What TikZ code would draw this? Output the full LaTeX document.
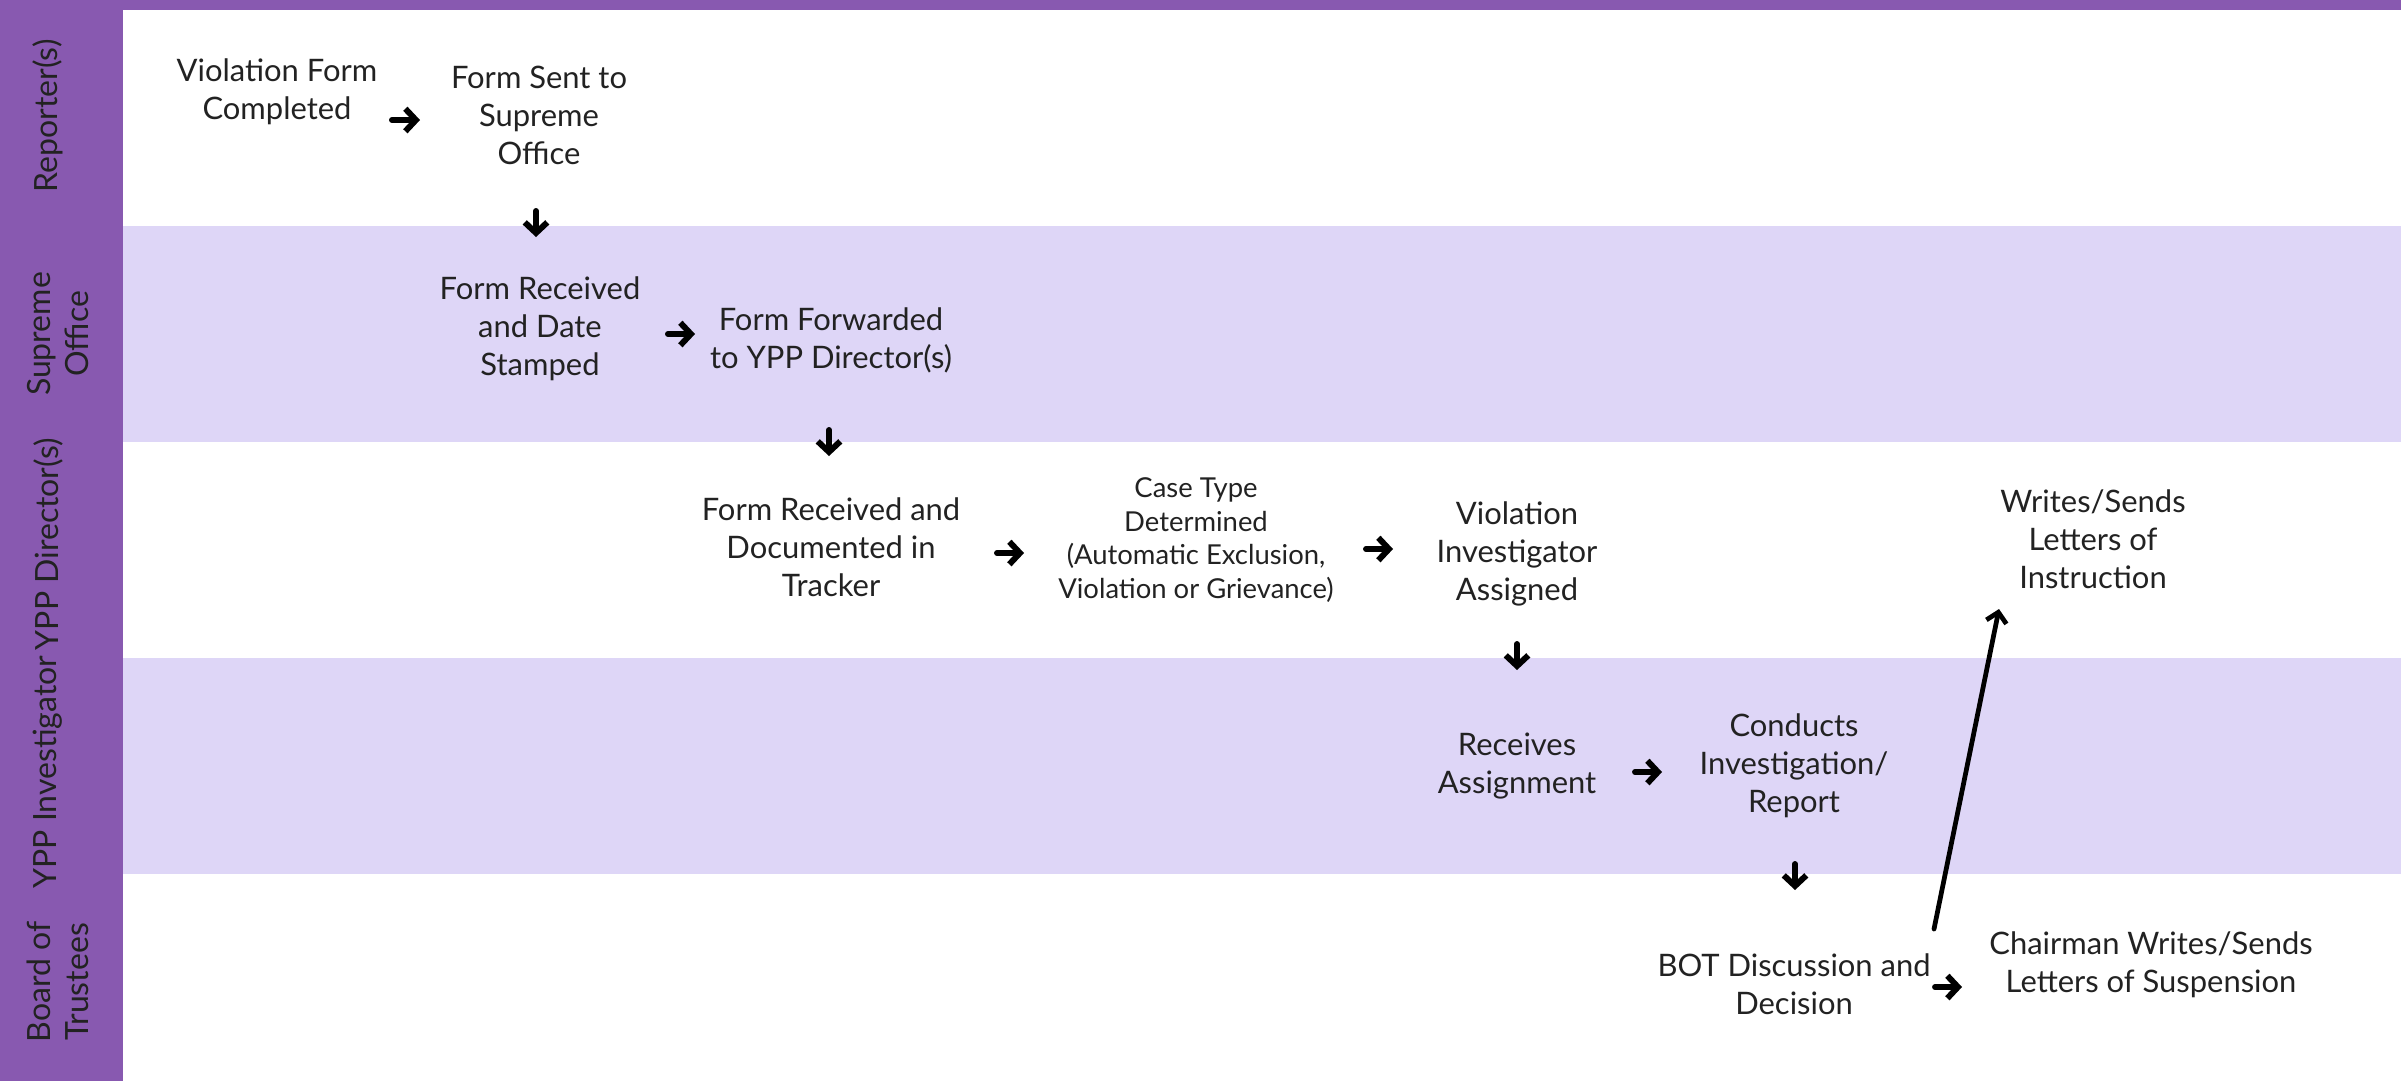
\documentclass[tikz,border=0pt]{standalone}
\usepackage{fontspec}
\setmainfont{Lato}
\usetikzlibrary{arrows.meta}
\definecolor{lanepurple}{HTML}{8859B0}
\definecolor{lanelav}{HTML}{DED6F7}
\definecolor{txt}{HTML}{222222}
\begin{document}
\begin{tikzpicture}[x=0.01cm,y=-0.01cm,
  stepnode/.style={align=center,font=\fontsize{8.8}{10.8}\selectfont,text=txt,inner sep=0pt},
  smallnode/.style={align=center,font=\fontsize{7.8}{9.6}\selectfont,text=txt,inner sep=0pt},
  lanelabel/.style={rotate=90,align=center,font=\fontsize{9.1}{11}\selectfont,text=txt,inner sep=0pt},
  flow/.style={line width=1.7pt,line cap=round,line join=round,-{Straight Barb[length=3pt,width=6.4pt]}},
  longflow/.style={line width=1.35pt,line cap=round,line join=round,-{Straight Barb[length=2.8pt,width=5.8pt]}}]
\useasboundingbox (0,0) rectangle (2401,1081);
% lanes
\fill[white] (0,0) rectangle (2401,1081);
\fill[lanelav] (123,226) rectangle (2401,442);
\fill[lanelav] (123,658) rectangle (2401,874);
\fill[lanepurple] (0,0) rectangle (2401,10);
\fill[lanepurple] (0,0) rectangle (123,1081);
% lane labels
\node[lanelabel] (lrep) at (48,116) {Reporter(s)};
\node[lanelabel] (lsup) at (58,334) {Supreme\\Office};
\node[lanelabel] (ldir) at (48,544) {YPP Director(s)};
\node[lanelabel] (linv) at (48,772) {YPP Investigator};
\node[lanelabel] (lbot) at (58,982) {Board of\\Trustees};
% steps
\node[stepnode] (vfc) at (277,92) {Violation Form\\Completed};
\node[stepnode] (fst) at (539,115) {Form Sent to\\Supreme\\Office};
\node[stepnode] (frd) at (540,329) {Form Received\\and Date\\Stamped};
\node[stepnode] (ffd) at (831,340) {Form Forwarded\\to YPP Director(s)};
\node[stepnode] (frt) at (831,547) {Form Received and\\Documented in\\Tracker};
\node[smallnode] (ctd) at (1196,540) {Case Type\\Determined\\(Automatic Exclusion,\\Violation or Grievance)};
\node[stepnode] (via) at (1517,554) {Violation\\Investigator\\Assigned};
\node[stepnode] (rea) at (1517,766) {Receives\\Assignment};
\node[stepnode] (cir) at (1794,766) {Conducts\\Investigation/\\Report};
\node[stepnode] (bot) at (1794,984) {BOT Discussion and\\Decision};
\node[stepnode] (cws) at (2151,965) {Chairman Writes/Sends\\Letters of Suspension};
\node[stepnode] (wsi) at (2093,539) {Writes/Sends\\Letters of\\Instruction};
% arrow end points
\coordinate (a1s) at (392,120); \coordinate (a1e) at (420,120);
\coordinate (a2s) at (536,211); \coordinate (a2e) at (536,237);
\coordinate (a3s) at (668,334); \coordinate (a3e) at (695,334);
\coordinate (a4s) at (829,430); \coordinate (a4e) at (829,456);
\coordinate (a5s) at (997,553); \coordinate (a5e) at (1024,553);
\coordinate (a6s) at (1366,549); \coordinate (a6e) at (1393,549);
\coordinate (a7s) at (1517,644); \coordinate (a7e) at (1517,670);
\coordinate (a8s) at (1635,772); \coordinate (a8e) at (1662,772);
\coordinate (a9s) at (1795,864); \coordinate (a9e) at (1795,890);
\coordinate (a10s) at (1935,987); \coordinate (a10e) at (1962,987);
\coordinate (a11s) at (1934,929); \coordinate (a11e) at (1999,609);
% connectors
\draw[flow] (a1s) -- (a1e);
\draw[flow] (a2s) -- (a2e);
\draw[flow] (a3s) -- (a3e);
\draw[flow] (a4s) -- (a4e);
\draw[flow] (a5s) -- (a5e);
\draw[flow] (a6s) -- (a6e);
\draw[flow] (a7s) -- (a7e);
\draw[flow] (a8s) -- (a8e);
\draw[flow] (a9s) -- (a9e);
\draw[flow] (a10s) -- (a10e);
\draw[longflow] (a11s) -- (a11e);
\end{tikzpicture}
\end{document}
